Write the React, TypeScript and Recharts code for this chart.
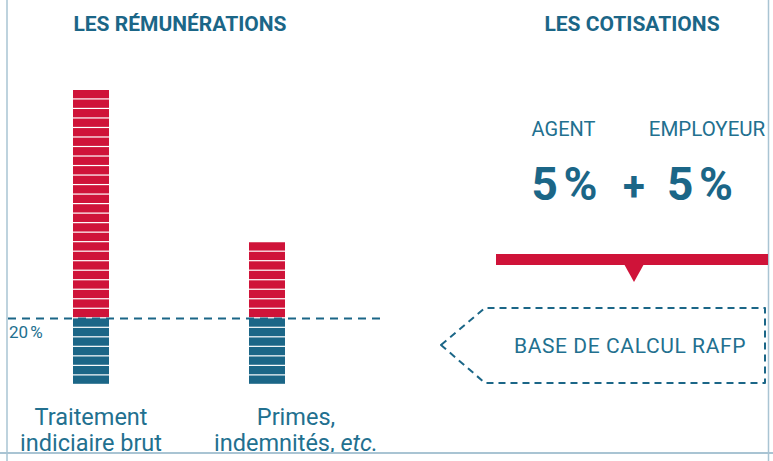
import { BarChart, Bar, XAxis, YAxis, ReferenceLine } from 'recharts';

// one unit = one stripe of the bars
const categories = ['Traitement indiciaire brut', 'Primes, indemnités, etc.'];
const baseUnits = [7, 7];    // part counted in the RAFP base (blue)
const extraUnits = [24, 8];  // rest of the remuneration (red)
const thresholdUnits = 7;
const thresholdLabel = '20\u202F%';

const tickLine1 = ['Traitement', 'Primes,'];
const tickLine2 = ['indiciaire brut', 'indemnités, '];
const tickItalic = ['', 'etc.'];

const agentRate = '5\u202F%';
const employerRate = '5\u202F%';

const data = categories.map((name, i) => ({
  name,
  base: baseUnits[i],
  extra: extraUnits[i],
}));

const RED = '#cf1339';
const TEAL = '#1b6687';
const TEXT = '#22708f';
const FRAME = '#a9c4d3';
const FONT = 'Roboto, "DejaVu Sans", sans-serif';

function StripedBar(props: any) {
  const { x, y, width, height, fill, count } = props;
  if (!count || !height) return null;
  const pitch = height / count;
  return (
    <g>
      {Array.from({ length: count }, (_, i) => (
        <rect key={i} x={x} y={y + i * pitch} width={width} height={pitch - 1.2} fill={fill} />
      ))}
    </g>
  );
}

function CategoryTick({ x, y, index }: any) {
  const shift = index === 1 ? 29 : 0;
  return (
    <text x={x + shift} y={y} textAnchor="middle" fill={TEXT} fontSize={23.5} fontFamily={FONT}>
      <tspan x={x + shift} dy={40}>{tickLine1[index]}</tspan>
      <tspan x={x + shift} dy={26}>
        {tickLine2[index]}
        {tickItalic[index] && <tspan fontStyle="italic">{tickItalic[index]}</tspan>}
      </tspan>
    </text>
  );
}

function ThresholdLabel({ viewBox }: any) {
  return (
    <text x={viewBox.x + 1} y={viewBox.y + 20} fill={TEXT} fontSize={17} fontFamily={FONT}>
      {thresholdLabel}
    </text>
  );
}

export default function App() {
  return (
    <div style={{ position: 'absolute', left: 0, top: 0, width: 773, height: 461, background: '#fff' }}>
      <BarChart
        width={773}
        height={461}
        data={data}
        margin={{ top: 90, right: 393, bottom: 16, left: 8 }}
      >
        <YAxis hide domain={[0, 31]} />
        <XAxis
          dataKey="name"
          height={60}
          axisLine={false}
          tickLine={false}
          tickSize={0}
          tickMargin={0}
          padding={{ left: -5, right: 25 }}
          interval={0}
          tick={<CategoryTick />}
        />
        <Bar
          dataKey="base"
          stackId="a"
          fill={TEAL}
          barSize={36}
          isAnimationActive={false}
          shape={(p: any) => <StripedBar {...p} count={p.payload.base} />}
        />
        <Bar
          dataKey="extra"
          stackId="a"
          fill={RED}
          barSize={36}
          isAnimationActive={false}
          shape={(p: any) => <StripedBar {...p} count={p.payload.extra} />}
        />
        <ReferenceLine
          y={thresholdUnits}
          stroke={TEAL}
          strokeWidth={2}
          strokeDasharray="8 6"
          label={<ThresholdLabel />}
        />
      </BarChart>

      <svg
        width={773}
        height={461}
        style={{ position: 'absolute', left: 0, top: 0, pointerEvents: 'none' }}
        fontFamily={FONT}
      >
        <line x1={7} y1={0} x2={7} y2={461} stroke={FRAME} strokeWidth={1.5} />
        <line x1={768.5} y1={0} x2={768.5} y2={461} stroke={FRAME} strokeWidth={1.5} />
        <line x1={0} y1={453} x2={773} y2={453} stroke={FRAME} strokeWidth={2} />

        <text x={180} y={31} textAnchor="middle" fill={TEAL} fontSize={21} fontWeight="bold">
          LES RÉMUNÉRATIONS
        </text>
        <text x={632} y={31} textAnchor="middle" fill={TEAL} fontSize={21} fontWeight="bold">
          LES COTISATIONS
        </text>

        <text x={563.5} y={136} textAnchor="middle" fill={TEXT} fontSize={20}>AGENT</text>
        <text x={707} y={136} textAnchor="middle" fill={TEXT} fontSize={20.5}>EMPLOYEUR</text>

        <text x={564.5} y={200} textAnchor="middle" fill={TEAL} fontSize={46} fontWeight="bold">{agentRate}</text>
        <text x={634} y={200} textAnchor="middle" fill={TEAL} fontSize={40} fontWeight="bold">+</text>
        <text x={700} y={200} textAnchor="middle" fill={TEAL} fontSize={46} fontWeight="bold">{employerRate}</text>

        <rect x={496} y={254} width={272} height={11} fill={RED} />
        <polygon points="624,264 644,264 634,282" fill={RED} />

        <path
          d="M441,345 L485,308 L765,308 L765,383 L485,383 Z"
          fill="none"
          stroke={TEAL}
          strokeWidth={2}
          strokeDasharray="7 5"
          strokeLinejoin="round"
        />
        <text x={630} y={353} textAnchor="middle" fill={TEXT} fontSize={21} letterSpacing={0.6}>
          BASE DE CALCUL RAFP
        </text>
      </svg>
    </div>
  );
}
